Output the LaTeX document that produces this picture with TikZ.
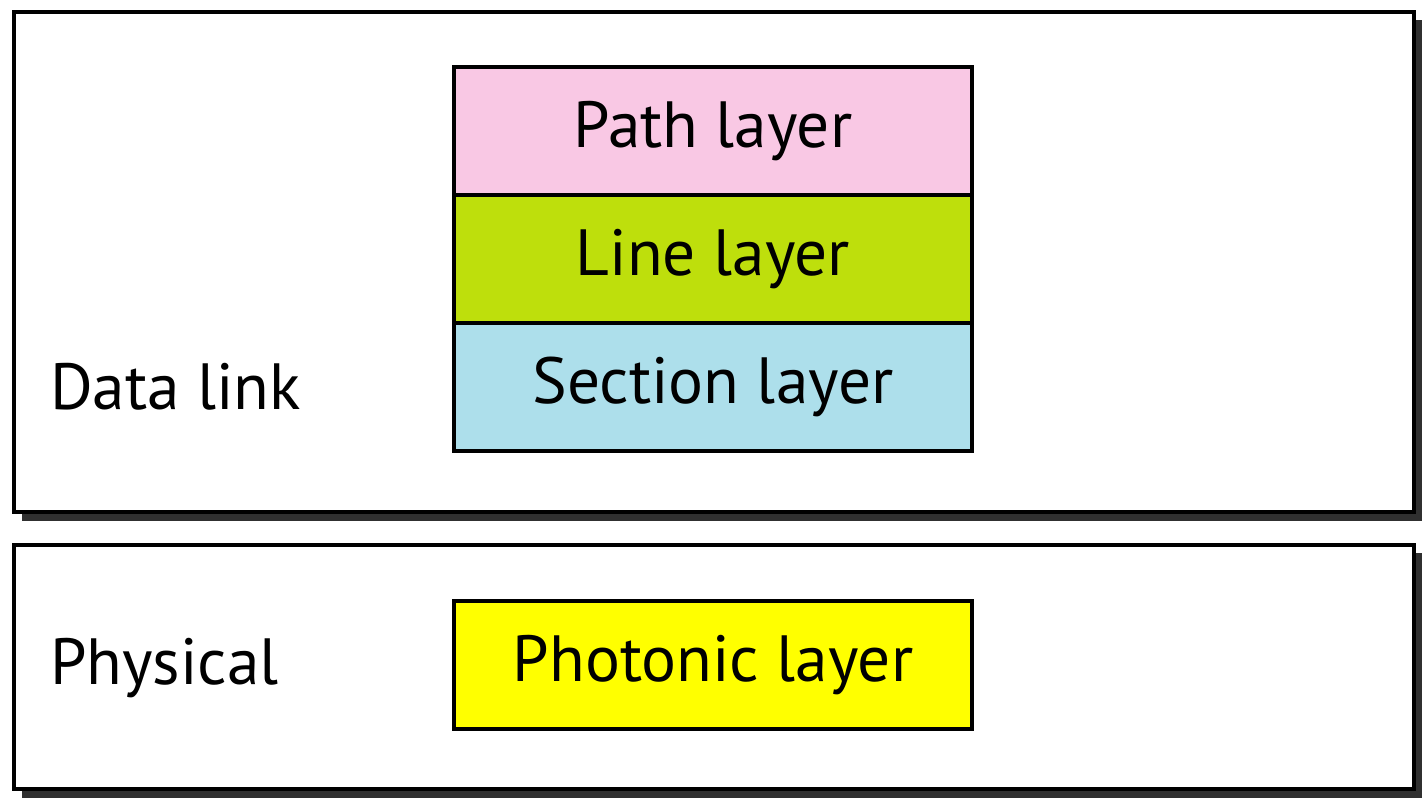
\documentclass[tikz,border=0pt]{standalone}
\usepackage{fontspec}
\setmainfont{PT Sans}
\definecolor{shadowc}{HTML}{303030}
\definecolor{pathc}{HTML}{F9C8E4}
\definecolor{linec}{HTML}{BEDF0C}
\definecolor{sectc}{HTML}{ADDFEB}
\definecolor{photc}{HTML}{FFFF00}
\begin{document}
\begin{tikzpicture}[x=0.75pt,y=-0.75pt,
  outer/.style={draw=black,line width=3pt,fill=white},
  shadowbox/.style={fill=shadowc,draw=none},
  layerbox/.style={draw=black,line width=2.6pt,outer sep=0pt,minimum width=518*0.75pt,minimum height=128*0.75pt,inner sep=0pt,font=\fontsize{49}{55}\selectfont},
  lbl/.style={anchor=base west,inner sep=0pt,font=\fontsize{49}{55}\selectfont}]
\useasboundingbox (0,0) rectangle (1422,798);
\fill[white] (0,0) rectangle (1422,798);
% shadows
\path[shadowbox] (22,20) rectangle (1422,521);
\path[shadowbox] (22,553) rectangle (1422,798);
% outer boxes
\node[outer,minimum width=1400*0.75pt,minimum height=500*0.75pt,inner sep=0pt,anchor=north west] (dl) at (12,10) {};
\node[outer,minimum width=1400*0.75pt,minimum height=244*0.75pt,inner sep=0pt,anchor=north west] (ph) at (12,543) {};
% layers
\node[layerbox,fill=pathc,anchor=north west] (path) at (454,67) {Path layer};
\node[layerbox,fill=linec,anchor=north] (line) at (path.south) {Line layer};
\node[layerbox,fill=sectc,anchor=north] (sect) at (line.south) {Section layer};
\draw[black,line width=2.6pt] (line.north west) -- (line.north east) (sect.north west) -- (sect.north east);
\node[layerbox,fill=photc,anchor=north west] (phot) at (454,601) {Photonic layer};
% labels
\node[lbl] (dltext) at (50,410) {Data link};
\node[lbl] (phtext) at (50,684) {Physical};
\end{tikzpicture}
\end{document}
